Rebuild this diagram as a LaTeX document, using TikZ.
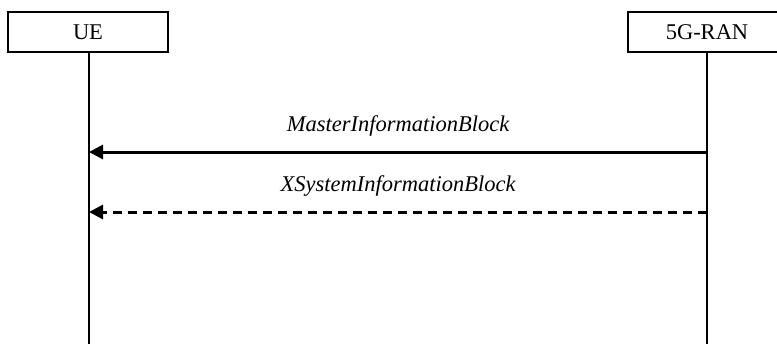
\documentclass[tikz,border=0pt]{standalone}
\usepackage{fontspec}
\setmainfont{Liberation Serif}
\usepackage{tikz}
\usetikzlibrary{arrows.meta, positioning}

\begin{document}
\begin{tikzpicture}[x=0.5pt, y=-0.5pt,
        every node/.style={font=\fontsize{11.25}{13}\selectfont},
        entity/.style={draw, line width=1pt, minimum height=20pt, inner sep=0pt},
        lifeline/.style={line width=1pt},
        msg/.style={line width=1.5pt, -{Triangle[length=7pt, width=7pt]}},
        msglabel/.style={font=\fontsize{11.25}{13}\selectfont\itshape, inner sep=1pt}]
        \useasboundingbox (0, 0) rectangle (777, 344);
        \node[entity, minimum width=80pt] (ue) at (88, 32) {UE};
        \node[entity, minimum width=79pt] (ran) at (707, 32) {5G-RAN};
        \coordinate (ueend) at (89, 344);
        \coordinate (ranend) at (707, 344);
        \coordinate (mibl) at (89, 152);
        \coordinate (mibr) at (707, 152);
        \coordinate (sibl) at (89, 212);
        \coordinate (sibr) at (707, 212);
        
        \draw[lifeline] (ue.south -| ueend) to (ueend)
            (ran) to (ranend);
        \draw[msg] (mibr) to node[msglabel, above=6pt] (mib) {MasterInformationBlock} (mibl);
        \draw[msg, dash pattern=on 4.5pt off 3pt] (sibr) to node[msglabel, above=6pt] (sib) {XSystemInformationBlock} (sibl);
    \end{tikzpicture}
\end{document}
